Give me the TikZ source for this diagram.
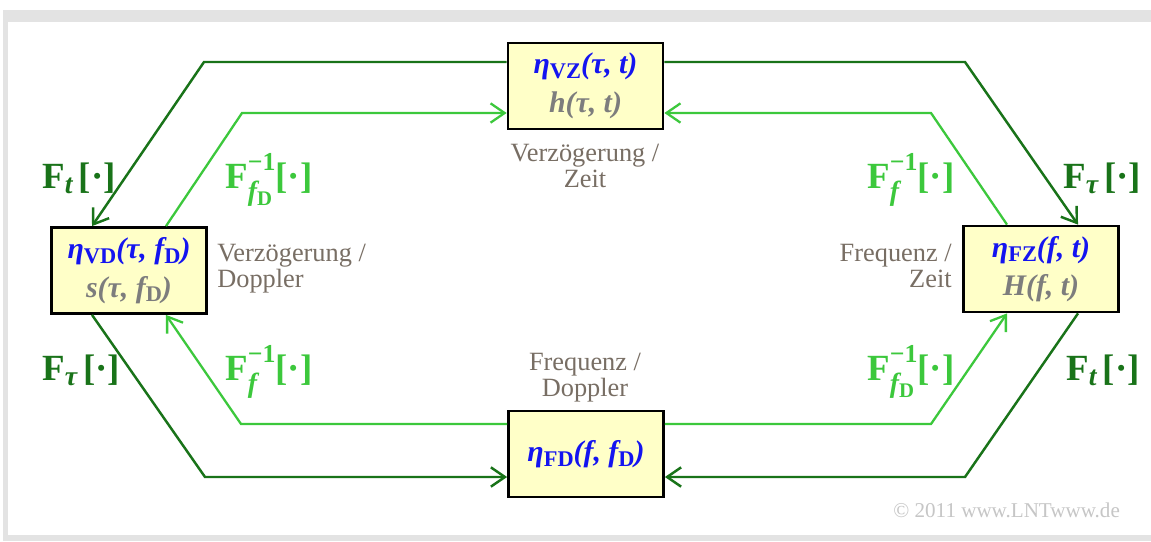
\documentclass[tikz,border=0pt]{standalone}
\usepackage{fontspec}
\setmainfont{Liberation Serif}
\usetikzlibrary{arrows.meta}
\definecolor{darkgrn}{RGB}{25,115,25}
\definecolor{lightgrn}{RGB}{60,200,60}
\definecolor{etablue}{RGB}{20,20,240}
\definecolor{boxfill}{RGB}{255,255,200}
\definecolor{labgray}{RGB}{120,110,100}
\definecolor{hgray}{RGB}{125,125,125}
\newcommand{\lowidx}[1]{\raisebox{-0.35ex}{\scalebox{0.75}{\upshape #1}}}
\newcommand{\supsub}[2]{%
  \setbox0=\hbox{\scalebox{0.7}{#1}}%
  \setbox2=\hbox{\scalebox{0.75}{#2}}%
  \ifdim\wd0>\wd2 \dimen0=\wd0 \else\dimen0=\wd2 \fi
  \makebox[\dimen0][l]{\rlap{\raisebox{1.05ex}{\copy0}}\raisebox{-0.75ex}{\copy2}}}
\begin{document}
\begin{tikzpicture}[x=0.02cm,y=-0.02cm,
		domainbox/.style={draw,line width=1.6pt,fill=boxfill,minimum width=3.1cm,
			minimum height=1.72cm,align=center,inner sep=0pt,
			font=\fontsize{17}{22}\selectfont\bfseries\itshape},
		fwd/.style={darkgrn,line width=1.4pt,-{Straight Barb[length=8pt,width=11pt]}},
		inv/.style={lightgrn,line width=1.3pt,-{Straight Barb[length=8pt,width=11pt]}},
		trafo/.style={anchor=base west,inner sep=0pt,font=\fontsize{21}{24}\selectfont\bfseries},
		domname/.style={labgray,inner sep=0pt,font=\fontsize{15}{14.4}\selectfont}
		]
		\useasboundingbox (0,0) rectangle (1151,541);
		\fill[gray!22] (3,10) rectangle (1151,541);
		\fill[white] (8,22) rectangle (1151,535);
		% the four domains
		\node[domainbox](VZ) at (585.5,86){{\color{etablue}η\lowidx{VZ}(τ, t)}\\{\color{hgray}h(τ, t)}};
		\node[domainbox](VD) at (129,270.5){{\color{etablue}η\lowidx{VD}(τ, f\lowidx{D})}\\{\color{hgray}s(τ, f\lowidx{D})}};
		\node[domainbox](FZ) at (1041,269){{\color{etablue}η\lowidx{FZ}(f, t)}\\{\color{hgray}H(f, t)}};
		\node[domainbox](FD) at (586,454){\color{etablue}η\lowidx{FD}(f, f\lowidx{D})};
		\node[domname, align=center](nVZ) at (585,166){Verzögerung /\\Zeit};
		\node[domname, align=left, anchor=west](nVD) at (217,268.5){Verzögerung /\\Doppler};
		\node[domname, align=right, anchor=east](nFZ) at (952,266){Frequenz /\\Zeit};
		\node[domname, align=center](nFD) at (585,377.5){Frequenz /\\Doppler};
		% corners
		\coordinate (tl) at (204,62);
		\coordinate (tr) at (965,62);
		\coordinate (bl) at (205,477);
		\coordinate (br) at (965,477);
		\coordinate (itl) at (242,113);
		\coordinate (itr) at (931,113);
		\coordinate (ibl) at (241,424);
		\coordinate (ibr) at (931,424);
		\draw[fwd] (VZ.west |- tl) -- (tl) -- ([xshift=-0.74cm]VD.north);
		\draw[fwd] (VZ.east |- tr) -- (tr) -- ([xshift=0.74cm]FZ.north);
		\draw[fwd] ([xshift=-0.74cm]VD.south) -- (bl) -- (FD.west |- bl);
		\draw[fwd] ([xshift=0.74cm]FZ.south) -- (br) -- (FD.east |- br);
		\draw[inv] ([xshift=0.74cm]VD.north) -- (itl) -- (VZ.west |- itl);
		\draw[inv] ([xshift=-0.68cm]FZ.north) -- (itr) -- (VZ.east |- itr);
		\draw[inv] (FD.west |- ibl) -- (ibl) -- ([xshift=0.74cm]VD.south);
		\draw[inv] (FD.east |- ibr) -- (ibr) -- ([xshift=-0.68cm]FZ.south);
		% transforms
		\node[trafo, darkgrn](ft1) at (42,188){F\lowidx{\itshape t}\,[·]};
		\node[trafo, lightgrn](fd1) at (225,188){F\supsub{−1}{\itshape f\lowidx{D}}[·]};
		\node[trafo, lightgrn](ff1) at (867,188){F\supsub{−1}{\itshape f}[·]};
		\node[trafo, darkgrn](ftau1) at (1063,188){F\lowidx{\itshape τ}\,[·]};
		\node[trafo, darkgrn](ftau2) at (42,380){F\lowidx{\itshape τ}\,[·]};
		\node[trafo, lightgrn](ff2) at (225,380){F\supsub{−1}{\itshape f}[·]};
		\node[trafo, lightgrn](fd2) at (867,380){F\supsub{−1}{\itshape f\lowidx{D}}[·]};
		\node[trafo, darkgrn](ft2) at (1066,380){F\lowidx{\itshape t}\,[·]};
		\node[anchor=base west, inner sep=0pt, gray!45, font=\fontsize{12}{14}\selectfont](copy) at (893,517){© 2011 www.LNTwww.de};
	\end{tikzpicture}
\end{document}
